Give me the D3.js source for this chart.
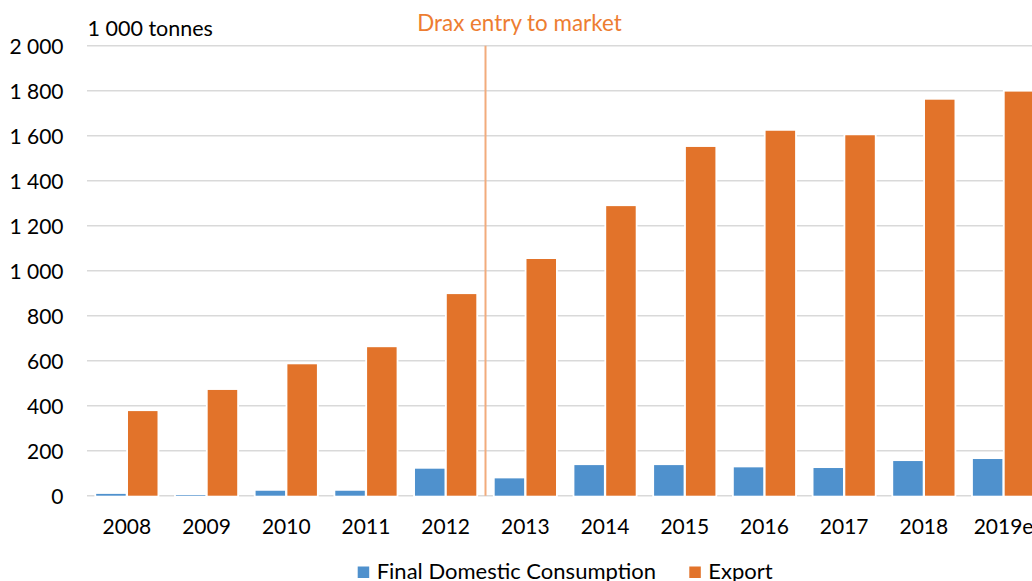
<!DOCTYPE html>
<html>
<head>
<meta charset="utf-8">
<script src="https://cdn.jsdelivr.net/npm/d3@7"></script>
<style>
  html, body { margin: 0; padding: 0; background: #fff; overflow: hidden; }
  svg { display: block; font-family: Lato, "Open Sans", sans-serif; }
</style>
</head>
<body>
<svg id="chart" width="1032" height="581"></svg>
<script>
// ---- data ----
const categories = ["2008","2009","2010","2011","2012","2013","2014","2015","2016","2017","2018","2019e"];
const seriesNames = ["Final Domestic Consumption", "Export"];
const domesticValues = [8, 3, 22, 22, 120, 77, 136, 136, 126, 123, 154, 163];
const exportValues = [376, 470, 584, 660, 896, 1052, 1287, 1550, 1622, 1602, 1760, 1796];
const yTicks = [0, 200, 400, 600, 800, 1000, 1200, 1400, 1600, 1800, 2000];
const unitLabel = "1 000 tonnes";
const annotationLabel = "Drax entry to market";
const annotationAfter = "2012";

// ---- styles ----
const colors = { "Final Domestic Consumption": "#4F91CD", "Export": "#E2732A" };
const gridColor = "#D9D9D9";
const numSize = 21;

const svg = d3.select("#chart");
const x0 = d3.scaleBand().domain(categories).range([87, 1043.4]).paddingInner(0).paddingOuter(0);
const x1 = d3.scaleBand().domain(seriesNames).range([0, x0.bandwidth()]).paddingInner(0.072).paddingOuter(0.289);
const y = d3.scaleLinear().domain([0, 2000]).range([495.7, 45.7]);

const fmt = v => d3.format(",")(v).replace(/,/g, " ");

// gridlines
svg.append("g")
  .selectAll("line").data(yTicks).join("line")
  .attr("x1", 87).attr("x2", 1043.4)
  .attr("y1", d => y(d)).attr("y2", d => y(d))
  .attr("stroke", gridColor).attr("stroke-width", 1.4);

// y axis labels
const yAxis = svg.append("g").attr("transform", "translate(63.5,0)")
  .call(d3.axisLeft(y).tickValues(yTicks).tickSize(0).tickPadding(0).tickFormat(fmt));
yAxis.select(".domain").remove();
yAxis.selectAll("text").attr("font-family", "Lato, 'Open Sans', sans-serif")
  .attr("font-size", numSize).attr("fill", "#000").attr("dy", "0.36em");

// x axis labels
const xAxis = svg.append("g").attr("transform", "translate(0,534)")
  .call(d3.axisBottom(x0).tickSize(0).tickPadding(0));
xAxis.select(".domain").remove();
xAxis.selectAll("text").attr("font-family", "Lato, 'Open Sans', sans-serif")
  .attr("font-size", numSize).attr("fill", "#000").attr("dy", 0);

// bars
const rows = categories.map((c, i) => ({ cat: c, vals: [
  { key: seriesNames[0], v: domesticValues[i] },
  { key: seriesNames[1], v: exportValues[i] } ] }));

svg.append("g").selectAll("g").data(rows).join("g")
  .attr("transform", d => `translate(${x0(d.cat)},0)`)
  .selectAll("rect").data(d => d.vals).join("rect")
  .attr("x", d => x1(d.key))
  .attr("width", x1.bandwidth())
  .attr("y", d => y(d.v))
  .attr("height", d => y(0) - y(d.v))
  .attr("fill", d => colors[d.key])
  .attr("stroke", "#fff").attr("stroke-width", 3.6)
  .style("paint-order", "stroke");

// annotation line
const ax = x0(annotationAfter) + x0.bandwidth();
svg.append("line")
  .attr("x1", ax).attr("x2", ax)
  .attr("y1", y(2000)).attr("y2", y(0))
  .attr("stroke", "#F2AB7C").attr("stroke-width", 2);

svg.append("text")
  .attr("x", 519.5).attr("y", 30.5)
  .attr("text-anchor", "middle")
  .attr("font-size", 22.4).attr("fill", "#ED7D31")
  .text(annotationLabel);

// unit label
svg.append("text")
  .attr("x", 87.5).attr("y", 36)
  .attr("font-size", 21.5).attr("fill", "#000")
  .text(unitLabel);

// legend
const legend = svg.append("g");
const legendItems = [
  { key: seriesNames[0], sx: 357.7, tx: 376.7 },
  { key: seriesNames[1], sx: 689.3, tx: 708.3 }
];
legendItems.forEach(it => {
  legend.append("rect").attr("x", it.sx).attr("y", 566.5).attr("width", 11.5).attr("height", 11.5)
    .attr("fill", colors[it.key]);
  legend.append("text").attr("x", it.tx).attr("y", 579)
    .attr("font-size", 22).attr("fill", "#000").text(it.key);
});
</script>
</body>
</html>
